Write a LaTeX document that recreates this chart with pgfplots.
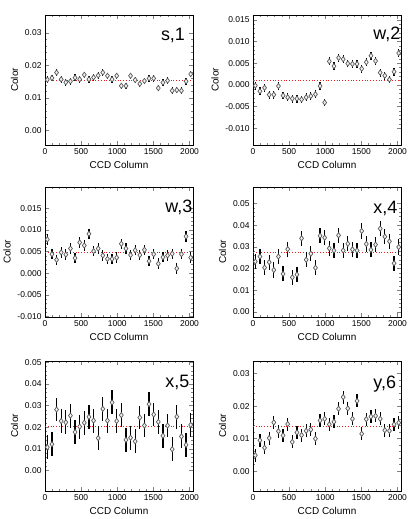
\documentclass[border=0pt]{standalone}
\usepackage{fontspec}
\setmainfont{Liberation Sans}
\usepackage{pgfplots}
\usepackage{pgfplotstable}
\pgfplotsset{compat=1.18}
\definecolor{meanred}{RGB}{235,30,30}

% binned colour per CCD column, one column per filter/CCD
\pgfplotstableread{
x     s1      w2       w3      x4      x5      y6
32    0.0156  -0.0002  0.0078  0.0232  0.0107  0.0049
96    0.0161  -0.0015  0.0044  0.0255  0.0121  0.0095
160   0.0178  -0.0007  0.0031  0.0204  0.0281  0.0072
224   0.0157  -0.0023  0.0048  0.0229  0.0228  0.0102
288   0.0148  -0.0023  0.0043  0.0193  0.0222  0.0150
352   0.0151  -0.0003  0.0057  0.0255  0.0253  0.0123
416   0.0162  -0.0025  0.0035  0.0175  0.0177  0.0110
480   0.0157  -0.0029  0.0071  0.0289  0.0202  0.0145
544   0.0171  -0.0032  0.0064  0.0159  0.0220  0.0090
608   0.0157  -0.0032  0.0091  0.0172  0.0247  0.0119
672   0.0163  -0.0034  0.0051  0.0339  0.0230  0.0111
736   0.0169  -0.0029  0.0057  0.0240  0.0149  0.0124
800   0.0178  -0.0026  0.0041  0.0268  0.0284  0.0128
864   0.0168  -0.0022  0.0033  0.0203  0.0230  0.0100
928   0.0157  -0.0003  0.0033  0.0351  0.0314  0.0156
992   0.0168  -0.0041  0.0036  0.0342  0.0228  0.0161
1056  0.0137  0.0054   0.0068  0.0293  0.0255  0.0144
1120  0.0137  0.0043   0.0057  0.0283  0.0141  0.0152
1184  0.0168  0.0062   0.0042  0.0353  0.0151  0.0192
1248  0.0155  0.0059   0.0053  0.0283  0.0134  0.0228
1312  0.0143  0.0049   0.0042  0.0314  0.0244  0.0193
1376  0.0152  0.0048   0.0054  0.0288  0.0207  0.0161
1440  0.0160  0.0048   0.0028  0.0283  0.0306  0.0216
1504  0.0160  0.0037   0.0044  0.0373  0.0258  0.0115
1568  0.0130  0.0052   0.0022  0.0313  0.0224  0.0160
1632  0.0147  0.0067   0.0037  0.0286  0.0160  0.0168
1696  0.0153  0.0055   0.0041  0.0310  0.0207  0.0170
1760  0.0122  0.0028   0.0045  0.0384  0.0098  0.0161
1824  0.0124  0.0021   0.0011  0.0347  0.0248  0.0126
1888  0.0122  0.0012   0.0044  0.0325  0.0157  0.0124
1952  0.0151  0.0030   0.0085  0.0224  0.0118  0.0144
2016  0.0173  0.0073   0.0036  0.0299  0.0210  0.0149
}\colordata

\tikzset{tag/.style={anchor=base west, font=\fontsize{18}{20}\selectfont}}

\pgfplotsset{
  panel/.style={
    scale only axis, width=148bp, height=130bp,
    xmin=0, xmax=2048,
    xtick={0,500,1000,1500,2000},
    minor x tick num=4, minor y tick num=4,
    tick align=inside,
    major tick length=4bp, minor tick length=2bp,
    tick style={line width=0.5pt},
    axis line style={line width=0.6pt},
    xlabel={CCD Column}, ylabel={Color},
    ticklabel style={font=\fontsize{8.5}{9}\selectfont},
    label style={font=\fontsize{10}{11}\selectfont},
    /pgf/number format/assume math mode=true,
    scaled y ticks=false,
    xticklabel style={/pgf/number format/set thousands separator={}},
    yticklabel style={/pgf/number format/.cd, fixed, fixed zerofill, precision=2},
  },
  prec3/.style={yticklabel style={/pgf/number format/.cd, fixed, fixed zerofill, precision=3}},
  pts/.style={only marks, mark=diamond*, mark size=2.6bp,
    mark options={draw=black!65, fill=gray!10, line width=0.7pt},
    error bars/.cd, y dir=both, y fixed=#1,
    error bar style={line width=1.2pt}, error mark=none},
  meanline/.style={meanred, dotted, line width=0.8pt},
}

\begin{document}
\begin{tikzpicture}
\useasboundingbox (0,0) rectangle (415bp,519bp);

% s,1
\begin{axis}[panel, at={(45bp,374bp)}, anchor=south west,
  ymin=-0.0045, ymax=0.0355, ytick={0,0.01,0.02,0.03}]
  \addplot[meanline] coordinates {(0,0.0155) (2048,0.0155)};
  \addplot[pts=0.001] table[x=x, y=s1] {\colordata};
  \node[tag] at (rel axis cs:0.76,0.8) {s,1};
\end{axis}

% w,2
\begin{axis}[panel, prec3, at={(253bp,374bp)}, anchor=south west,
  ymin=-0.0139, ymax=0.0161, ytick={-0.01,-0.005,0,0.005,0.01,0.015}]
  \addplot[meanline] coordinates {(0,0.0011) (2048,0.0011)};
  \addplot[pts=0.0009] table[x=x, y=w2] {\colordata};
  \node[tag] at (rel axis cs:0.79,0.81) {w,2};
\end{axis}

% w,3
\begin{axis}[panel, prec3, at={(45bp,202bp)}, anchor=south west,
  ymin=-0.0101, ymax=0.0199, ytick={-0.01,-0.005,0,0.005,0.01,0.015}]
  \addplot[meanline] coordinates {(0,0.0049) (2048,0.0049)};
  \addplot[pts=0.0012] table[x=x, y=w3] {\colordata};
  \node[tag] at (rel axis cs:0.79,0.8) {w,3};
\end{axis}

% x,4
\begin{axis}[panel, at={(253bp,202bp)}, anchor=south west,
  ymin=-0.0024, ymax=0.0576, ytick={0,0.01,0.02,0.03,0.04,0.05}]
  \addplot[meanline] coordinates {(0,0.0276) (2048,0.0276)};
  \addplot[pts=0.0035] table[x=x, y=x4] {\colordata};
  \node[tag] at (rel axis cs:0.79,0.8) {x,4};
\end{axis}

% x,5
\begin{axis}[panel, at={(45bp,28bp)}, anchor=south west,
  ymin=-0.0095, ymax=0.0505, ytick={0,0.01,0.02,0.03,0.04,0.05}]
  \addplot[meanline] coordinates {(0,0.0205) (2048,0.0205)};
  \addplot[pts=0.0055] table[x=x, y=x5] {\colordata};
  \node[tag] at (rel axis cs:0.79,0.8) {x,5};
\end{axis}

% y,6
\begin{axis}[panel, at={(253bp,28bp)}, anchor=south west,
  ymin=-0.0061, ymax=0.0339, ytick={0,0.01,0.02,0.03}]
  \addplot[meanline] coordinates {(0,0.0139) (2048,0.0139)};
  \addplot[pts=0.002] table[x=x, y=y6] {\colordata};
  \node[tag] at (rel axis cs:0.79,0.79) {y,6};
\end{axis}
\end{tikzpicture}
\end{document}
